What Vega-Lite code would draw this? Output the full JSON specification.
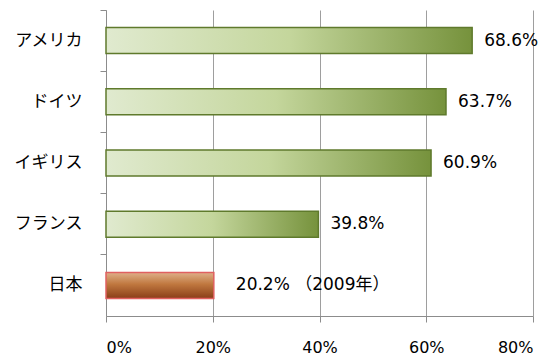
{
  "$schema": "https://vega.github.io/schema/vega-lite/v6.json",
  "width": 427,
  "height": 306,
  "autosize": {"type": "none"},
  "padding": {"left": 106, "top": 10, "right": 21, "bottom": 40},
  "background": "white",
  "config": {"font": "Noto Sans CJK JP", "view": {"stroke": null}},
  "data": {
    "values": [
      {"country": "アメリカ", "rate": 0.686, "label": "68.6%"},
      {"country": "ドイツ", "rate": 0.637, "label": "63.7%"},
      {"country": "イギリス", "rate": 0.609, "label": "60.9%"},
      {"country": "フランス", "rate": 0.398, "label": "39.8%"},
      {"country": "日本", "rate": 0.202, "label": "20.2% （2009年）"}
    ]
  },
  "encoding": {
    "y": {
      "field": "country", "type": "nominal", "sort": null,
      "scale": {"paddingInner": 0, "paddingOuter": 0},
      "axis": {
        "title": null, "labelFontSize": 17, "labelColor": "#000000", "labelPadding": 18,
        "labelFont": "Noto Sans CJK JP",
        "tickSize": 6, "tickColor": "#8c8c8c", "domainColor": "#8c8c8c", "bandPosition": 0,
        "grid": false
      }
    },
    "x": {
      "field": "rate", "type": "quantitative",
      "scale": {"domain": [0, 0.8]},
      "axis": {
        "title": null, "values": [0, 0.2, 0.4, 0.6, 0.8], "format": ".0%",
        "labelFont": "DejaVu Sans",
        "labelFontSize": 16, "labelColor": "#000000", "labelPadding": 17,
        "tickSize": 6, "tickColor": "#8c8c8c", "domainColor": "#8c8c8c",
        "grid": true, "gridColor": "#9e9e9e", "gridWidth": 1
      }
    }
  },
  "layer": [
    {
      "transform": [{"filter": "datum.country !== '日本'"}],
      "mark": {
        "type": "bar", "height": {"band": 0.425},
        "stroke": "#5f7a2c", "strokeWidth": 1.5,
        "color": {"gradient": "linear", "x1": 0, "y1": 0, "x2": 1, "y2": 0,
          "stops": [{"offset": 0, "color": "#e0eacf"}, {"offset": 0.5, "color": "#c4d69c"}, {"offset": 1, "color": "#76923c"}]}
      }
    },
    {
      "transform": [{"filter": "datum.country === '日本'"}],
      "mark": {
        "type": "bar", "height": {"band": 0.425},
        "stroke": "#e06060", "strokeWidth": 1.5,
        "color": {"gradient": "linear", "x1": 0, "y1": 0, "x2": 0, "y2": 1,
          "stops": [{"offset": 0, "color": "#dfb08a"}, {"offset": 0.45, "color": "#c0783f"}, {"offset": 1, "color": "#8a3e18"}]}
      }
    },
    {
      "transform": [{"filter": "datum.country !== '日本'"}],
      "mark": {"type": "text", "align": "left", "baseline": "middle", "dx": 12, "fontSize": 17, "font": "DejaVu Sans, Noto Sans CJK JP", "color": "#000000"},
      "encoding": {"text": {"field": "label"}}
    },
    {
      "transform": [{"filter": "datum.country === '日本'"}],
      "mark": {"type": "text", "align": "left", "baseline": "middle", "dx": 22, "fontSize": 17, "font": "DejaVu Sans, Noto Sans CJK JP", "color": "#000000"},
      "encoding": {"text": {"field": "label"}}
    }
  ]
}
